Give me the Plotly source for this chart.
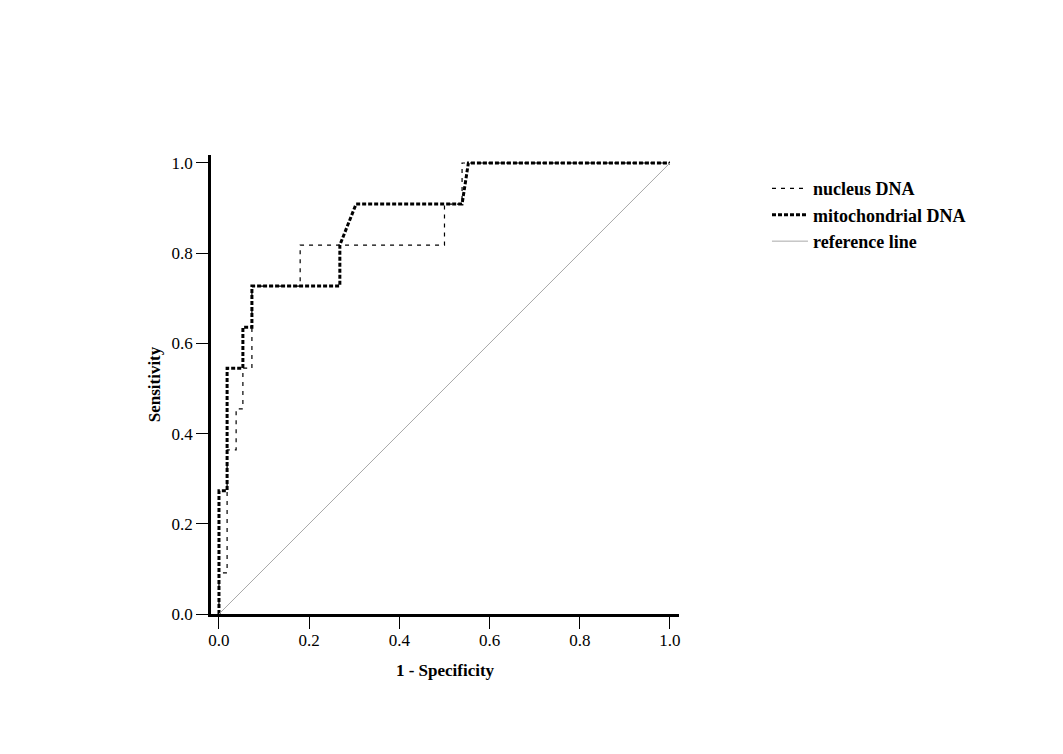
import plotly.graph_objects as go

# ROC curve points (1 - specificity, sensitivity)
nucleus_fpr = [0, 0, 0.018, 0.018, 0.038, 0.038, 0.053, 0.053, 0.073, 0.073,
               0.18, 0.18, 0.50, 0.50, 0.539, 0.539, 1.0]
nucleus_tpr = [0, 0.091, 0.091, 0.364, 0.364, 0.455, 0.455, 0.545, 0.545, 0.727,
               0.727, 0.818, 0.818, 0.909, 0.909, 1.0, 1.0]

mito_fpr = [0, 0, 0.018, 0.018, 0.053, 0.053, 0.073, 0.073, 0.268, 0.268,
            0.304, 0.539, 0.553, 1.0]
mito_tpr = [0, 0.273, 0.273, 0.545, 0.545, 0.636, 0.636, 0.727, 0.727, 0.818,
            0.909, 0.909, 1.0, 1.0]

ref_x = [0, 1]
ref_y = [0, 1]

tick_vals = [0.0, 0.2, 0.4, 0.6, 0.8, 1.0]

FONT = "Liberation Serif, Times New Roman, serif"

fig = go.Figure()
fig.add_trace(go.Scatter(x=nucleus_fpr, y=nucleus_tpr, mode="lines", name="nucleus DNA",
                         line=dict(color="black", width=1.2, dash="4px,5px")))
fig.add_trace(go.Scatter(x=mito_fpr, y=mito_tpr, mode="lines", name="mitochondrial DNA",
                         line=dict(color="black", width=3, dash="4px,2px")))
fig.add_trace(go.Scatter(x=ref_x, y=ref_y, mode="lines", name="reference line",
                         line=dict(color="#a8a8a8", width=1)))

axis_common = dict(
    showgrid=False, zeroline=False, showline=True, linecolor="black",
    ticks="outside", ticklen=12, tickcolor="black", tickwidth=1.2,
    tickvals=tick_vals, tickformat=".1f",
    tickfont=dict(family=FONT, size=17, color="black"),
)

# page body adds an 8px offset, so margins are shifted to compensate
fig.update_layout(
    width=1063, height=754,
    margin=dict(l=203, r=392, t=147, b=148),
    paper_bgcolor="white", plot_bgcolor="white",
    xaxis=dict(range=[-0.0177, 1.020], linewidth=2.5, ticklabelstandoff=-3,
               title=dict(text="<b>1 - Specificity</b>", standoff=15,
                          font=dict(family=FONT, size=17, color="black")),
               **axis_common),
    yaxis=dict(range=[0, 1.0177], linewidth=2.5,
               title=dict(text="<b>Sensitivity</b>", standoff=7,
                          font=dict(family=FONT, size=17, color="black")),
               **axis_common),
    legend=dict(x=1.188, y=0.967, xanchor="left", yanchor="top",
                font=dict(family=FONT, size=18, color="black", weight="bold"),
                bgcolor="rgba(0,0,0,0)", tracegroupgap=0, itemwidth=36),
    showlegend=True,
)

fig.write_html("out.html")
